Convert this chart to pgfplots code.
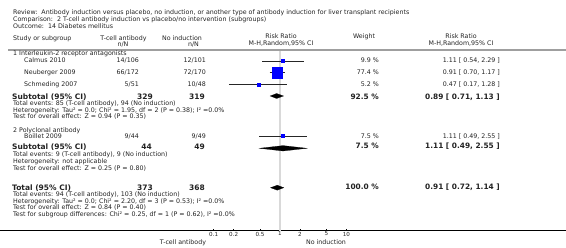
\documentclass[border=0pt]{standalone}
\usepackage{pgfplots}
\pgfplotsset{compat=1.18}
\usepackage{fontspec}
\setmainfont{DejaVu Sans}
\newcommand{\sm}{\fontsize{6.3}{7}\selectfont}
\newcommand{\bigb}{\fontsize{7.5}{8.5}\selectfont\bfseries}
\newcommand{\midb}{\fontsize{7.4}{8.5}\selectfont\bfseries}
\newcommand{\TL}[3]{\node[anchor=base west,inner sep=0pt] at (#1pt,-#2pt) {#3};}
\newcommand{\TR}[3]{\node[anchor=base east,inner sep=0pt] at (#1pt,-#2pt) {#3};}
\newcommand{\TC}[3]{\node[anchor=base,inner sep=0pt] at (#1pt,-#2pt) {#3};}
\definecolor{txt}{HTML}{222222}
\definecolor{sqblue}{HTML}{0000FF}
\begin{document}
\begin{tikzpicture}
\useasboundingbox (0pt,0pt) rectangle (566pt,-248pt);
\begin{axis}[at={(0pt,-230.7pt)}, anchor=south west,
  width=566pt, height=180.7pt, scale only axis,
  xmode=log, xmin=6.03e-5, xmax=20420,
  ymin=-230.7, ymax=-50,
  axis x line*=bottom, axis y line=none,
  xtick={0.1,0.2,0.5,1,2,5,10}, xticklabels={0.1,0.2,0.5,1,2,5,10},
  minor xtick={},
  tick align=inside, major tick length=2pt,
  x tick label style={font=\fontsize{5.6}{6}\selectfont, inner sep=1pt, text=txt},
  axis line style={black, line width=0.6pt},
  tick style={black, line width=0.5pt},
  clip=false]
% line of no effect
\addplot[gray!30, line width=1.3pt] coordinates {(1,-50) (1,-230.7)};
% studies: squares
\addplot[only marks, mark=square*, mark size=1.65pt, color=sqblue] coordinates {(1.11,-61)};
\addplot[only marks, mark=square*, mark size=5.25pt, color=sqblue] coordinates {(0.91,-72.5)};
\addplot[only marks, mark=square*, mark size=1.5pt, color=sqblue] coordinates {(0.47,-84.5)};
\addplot[only marks, mark=square*, mark size=1.6pt, color=sqblue] coordinates {(1.11,-136)};
% CI lines
\addplot[black!85, line width=0.5pt] coordinates {(0.54,-61) (2.29,-61)};
\addplot[black!85, line width=0.5pt] coordinates {(0.70,-72.5) (1.17,-72.5)};
\addplot[black!85, line width=0.5pt] coordinates {(0.91,-70.5) (0.91,-74.5)};
\addplot[black!85, line width=0.5pt] coordinates {(0.17,-84.5) (1.28,-84.5)};
\addplot[black!85, line width=0.5pt] coordinates {(0.49,-136) (2.55,-136)};
% diamonds
\addplot[fill=black, draw=black, line width=0.2pt] coordinates {(0.71,-96) (0.89,-93.5) (1.13,-96) (0.89,-98.5)} -- cycle;
\addplot[fill=black, draw=black, line width=0.2pt] coordinates {(0.49,-148.3) (1.11,-145.6) (2.55,-148.3) (1.11,-151)} -- cycle;
\addplot[fill=black, draw=black, line width=0.2pt] coordinates {(0.72,-187.7) (0.91,-185.2) (1.14,-187.7) (0.91,-190.2)} -- cycle;
\end{axis}
% top rule
\draw[gray!75, line width=1.4pt] (8pt,-50pt) -- (566pt,-50pt);
\begin{scope}[text=txt]
\sm
\TL{13}{15}{Review:\ \ Antibody induction versus placebo, no induction, or another type of antibody induction for liver transplant recipients}
\TL{13}{21.7}{Comparison:\ \ 2 T-cell antibody induction vs placebo/no intervention (subgroups)}
\TL{13}{28.2}{Outcome:\ \ 14 Diabetes mellitus}
% headers
\TL{13}{41}{Study or subgroup}
\TC{123.5}{41}{T-cell antibody}
\TC{123}{46.5}{n/N}
\TC{182}{41}{No induction}
\TC{193.5}{46.5}{n/N}
\TC{281}{39}{Risk Ratio}
\TC{281}{45.7}{M-H,Random,95\% CI}
\TC{364}{39}{Weight}
\TC{461}{39}{Risk Ratio}
\TC{461}{46}{M-H,Random,95\% CI}
% group 1
\TL{13}{56}{1 Interleukin-2 receptor antagonists}
\TL{24}{63}{Calmus 2010}\TR{139}{63}{14/106}\TR{206}{63}{12/101}\TR{379}{63}{9.9 \%}\TR{500}{63}{1.11 [ 0.54, 2.29 ]}
\TL{24}{74.5}{Neuberger 2009}\TR{139}{74.5}{66/172}\TR{206}{74.5}{72/170}\TR{379}{74.5}{77.4 \%}\TR{500}{74.5}{0.91 [ 0.70, 1.17 ]}
\TL{24}{86.7}{Schmeding 2007}\TR{139}{86.7}{5/51}\TR{206}{86.7}{10/48}\TR{379}{86.7}{5.2 \%}\TR{500}{86.7}{0.47 [ 0.17, 1.28 ]}
\TL{12}{99.5}{\bigb Subtotal (95\% CI)}\TR{153}{99.5}{\bigb 329}\TR{205}{99.5}{\bigb 319}\TR{379}{99.3}{\midb 92.5 \%}\TR{500}{99.3}{\midb 0.89 [ 0.71, 1.13 ]}
\TL{13}{105.3}{Total events: 85 (T-cell antibody), 94 (No induction)}
\TL{13}{112.1}{Heterogeneity: Tau² = 0.0; Chi² = 1.95, df = 2 (P = 0.38); I² =0.0\%}
\TL{13}{118.9}{Test for overall effect: Z = 0.94 (P = 0.35)}
% group 2
\TL{13}{132.7}{2 Polyclonal antibody}
\TL{24}{138.3}{Boillet 2009}\TR{139}{138.3}{9/44}\TR{206}{138.3}{9/49}\TR{379}{138.3}{7.5 \%}\TR{500}{138.3}{1.11 [ 0.49, 2.55 ]}
\TL{12}{149.2}{\bigb Subtotal (95\% CI)}\TR{152}{149.2}{\bigb 44}\TR{205}{149.2}{\bigb 49}\TR{379}{149}{\midb 7.5 \%}\TR{500}{149}{\midb 1.11 [ 0.49, 2.55 ]}
\TL{13}{156.8}{Total events: 9 (T-cell antibody), 9 (No induction)}
\TL{13}{163.6}{Heterogeneity: not applicable}
\TL{13}{170.4}{Test for overall effect: Z = 0.25 (P = 0.80)}
% total
\TL{12}{190.2}{\bigb Total (95\% CI)}\TR{153}{190.2}{\bigb 373}\TR{205}{190.2}{\bigb 368}\TR{379}{190}{\midb 100.0 \%}\TR{500}{190}{\midb 0.91 [ 0.72, 1.14 ]}
\TL{13}{196.3}{Total events: 94 (T-cell antibody), 103 (No induction)}
\TL{13}{203.1}{Heterogeneity: Tau² = 0.0; Chi² = 2.20, df = 3 (P = 0.53); I² =0.0\%}
\TL{13}{209.9}{Test for overall effect: Z = 0.84 (P = 0.40)}
\TL{13}{216.7}{Test for subgroup differences: Chi² = 0.25, df = 1 (P = 0.62), I² =0.0\%}
% axis captions
\TC{183}{244.5}{T-cell antibody}
\TC{326}{244.5}{No induction}
\end{scope}
\end{tikzpicture}
\end{document}
